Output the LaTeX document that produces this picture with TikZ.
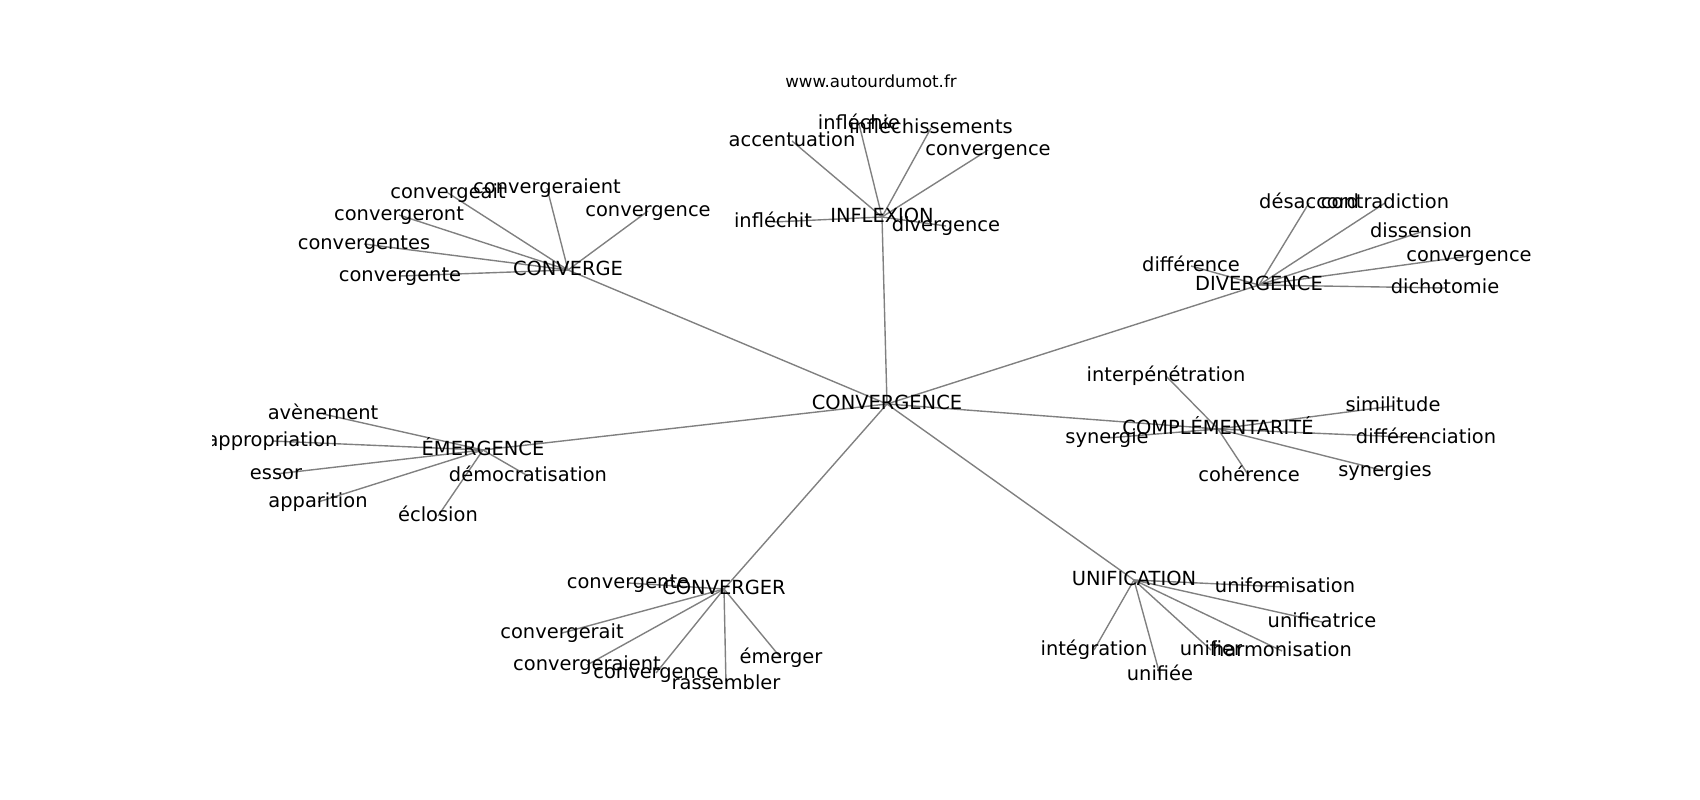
\documentclass[tikz,border=0pt]{standalone}
\usepackage{fontspec}
\setmainfont{DejaVu Sans}
\tikzset{
  lbl/.style={inner sep=0pt, outer sep=0pt, text height=14.77pt, text depth=4.28pt, anchor=center, font=\fontsize{19.44}{23}\selectfont},
  ttl/.style={inner sep=0pt, outer sep=0pt, text height=12.67pt, text depth=3.67pt, anchor=center, font=\fontsize{16.67}{20}\selectfont},
  edge/.style={draw=gray, line width=1.39pt}
}
\begin{document}
\begin{tikzpicture}[x=1pt,y=-1pt]
\useasboundingbox (0,0) rectangle (1700,800);
\node[ttl] (title) at (871,83.5) {www.autourdumot.fr};
\begin{scope}
\clip (212.5,96) rectangle (1530,712);
% coordinates of nodes
\coordinate (cC) at (887,404);
\coordinate (cCONVERGE) at (568,270);
\coordinate (c1) at (448,193);
\coordinate (c2) at (547,188);
\coordinate (c3) at (648,211);
\coordinate (c4) at (399,215);
\coordinate (c5) at (364,244);
\coordinate (c6) at (400,276);
\coordinate (cINF) at (882,217);
\coordinate (i1) at (859,124);
\coordinate (i2) at (931,128);
\coordinate (i3) at (792,141);
\coordinate (i4) at (988,150);
\coordinate (i5) at (773,222);
\coordinate (i6) at (946,226);
\coordinate (cDIV) at (1259,285);
\coordinate (d1) at (1309,203);
\coordinate (d2) at (1385,203);
\coordinate (d3) at (1421,232);
\coordinate (d4) at (1469,256);
\coordinate (d5) at (1191,266);
\coordinate (d6) at (1445,288);
\coordinate (cEME) at (483,450);
\coordinate (e1) at (323,414);
\coordinate (e2) at (272,441);
\coordinate (e3) at (276,474);
\coordinate (e4) at (318,502);
\coordinate (e5) at (528,476);
\coordinate (e6) at (438,516);
\coordinate (cCOM) at (1218,429);
\coordinate (m1) at (1166,376);
\coordinate (m2) at (1393,406);
\coordinate (m3) at (1107,438);
\coordinate (m4) at (1426,438);
\coordinate (m5) at (1249,476);
\coordinate (m6) at (1385,471);
\coordinate (cCVR) at (724,589);
\coordinate (r1) at (628,583);
\coordinate (r2) at (562,633);
\coordinate (r3) at (587,665);
\coordinate (r4) at (656,673);
\coordinate (r5) at (726,684);
\coordinate (r6) at (781,658);
\coordinate (cUNI) at (1134,580);
\coordinate (u1) at (1285,587);
\coordinate (u2) at (1322,622);
\coordinate (u3) at (1094,650);
\coordinate (u4) at (1211,650);
\coordinate (u5) at (1282,651);
\coordinate (u6) at (1160,675);
% edges
\foreach \h in {cCONVERGE,cINF,cDIV,cEME,cCOM,cCVR,cUNI} \draw[edge] (cC) -- (\h);
\foreach \n in {c1,c2,c3,c4,c5,c6} \draw[edge] (cCONVERGE) -- (\n);
\foreach \n in {i1,i2,i3,i4,i5,i6} \draw[edge] (cINF) -- (\n);
\foreach \n in {d1,d2,d3,d4,d5,d6} \draw[edge] (cDIV) -- (\n);
\foreach \n in {e1,e2,e3,e4,e5,e6} \draw[edge] (cEME) -- (\n);
\foreach \n in {m1,m2,m3,m4,m5,m6} \draw[edge] (cCOM) -- (\n);
\foreach \n in {r1,r2,r3,r4,r5,r6} \draw[edge] (cCVR) -- (\n);
\foreach \n in {u1,u2,u3,u4,u5,u6} \draw[edge] (cUNI) -- (\n);
% labels
\node[lbl] (nC) at (cC) {CONVERGENCE};
\node[lbl] (nCONVERGE) at (cCONVERGE) {CONVERGE};
\node[lbl] (n_c1) at (c1) {convergeait};
\node[lbl] (n_c2) at (c2) {convergeraient};
\node[lbl] (n_c3) at (c3) {convergence};
\node[lbl] (n_c4) at (c4) {convergeront};
\node[lbl] (n_c5) at (c5) {convergentes};
\node[lbl] (n_c6) at (c6) {convergente};
\node[lbl] (nINF) at (cINF) {INFLEXION};
\node[lbl] (n_i1) at (i1) {infléchie};
\node[lbl] (n_i2) at (i2) {infléchissements};
\node[lbl] (n_i3) at (i3) {accentuation};
\node[lbl] (n_i4) at (i4) {convergence};
\node[lbl] (n_i5) at (i5) {infléchit};
\node[lbl] (n_i6) at (i6) {divergence};
\node[lbl] (nDIV) at (cDIV) {DIVERGENCE};
\node[lbl] (n_d1) at (d1) {désaccord};
\node[lbl] (n_d2) at (d2) {contradiction};
\node[lbl] (n_d3) at (d3) {dissension};
\node[lbl] (n_d4) at (d4) {convergence};
\node[lbl] (n_d5) at (d5) {différence};
\node[lbl] (n_d6) at (d6) {dichotomie};
\node[lbl] (nEME) at (cEME) {ÉMERGENCE};
\node[lbl] (n_e1) at (e1) {avènement};
\node[lbl] (n_e2) at (e2) {appropriation};
\node[lbl] (n_e3) at (e3) {essor};
\node[lbl] (n_e4) at (e4) {apparition};
\node[lbl] (n_e5) at (e5) {démocratisation};
\node[lbl] (n_e6) at (e6) {éclosion};
\node[lbl] (nCOM) at (cCOM) {COMPLÉMENTARITÉ};
\node[lbl] (n_m1) at (m1) {interpénétration};
\node[lbl] (n_m2) at (m2) {similitude};
\node[lbl] (n_m3) at (m3) {synergie};
\node[lbl] (n_m4) at (m4) {différenciation};
\node[lbl] (n_m5) at (m5) {cohérence};
\node[lbl] (n_m6) at (m6) {synergies};
\node[lbl] (nCVR) at (cCVR) {CONVERGER};
\node[lbl] (n_r1) at (r1) {convergente};
\node[lbl] (n_r2) at (r2) {convergerait};
\node[lbl] (n_r3) at (r3) {convergeraient};
\node[lbl] (n_r4) at (r4) {convergence};
\node[lbl] (n_r5) at (r5) {rassembler};
\node[lbl] (n_r6) at (r6) {émerger};
\node[lbl] (nUNI) at (cUNI) {UNIFICATION};
\node[lbl] (n_u1) at (u1) {uniformisation};
\node[lbl] (n_u2) at (u2) {unificatrice};
\node[lbl] (n_u3) at (u3) {intégration};
\node[lbl] (n_u4) at (u4) {unifier};
\node[lbl] (n_u5) at (u5) {harmonisation};
\node[lbl] (n_u6) at (u6) {unifiée};
\end{scope}
\end{tikzpicture}
\end{document}
